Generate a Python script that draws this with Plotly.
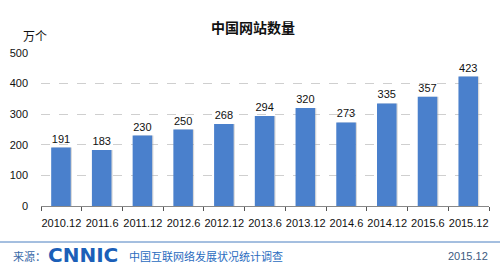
import plotly.graph_objects as go

categories = ["2010.12", "2011.6", "2011.12", "2012.6", "2012.12", "2013.6",
              "2013.12", "2014.6", "2014.12", "2015.6", "2015.12"]
values = [191, 183, 230, 250, 268, 294, 320, 273, 335, 357, 423]
y_ticks = [0, 100, 200, 300, 400, 500]

title_text = "中国网站数量"
unit_text = "万个"
source_label = "来源："
logo_text = "CNNIC"
survey_text = "中国互联网络发展状况统计调查"
date_text = "2015.12"

FONT = "Liberation Sans, Arial, Noto Sans CJK SC, sans-serif"
CJK = "Noto Sans CJK SC, sans-serif"

fig = go.Figure()
# soft shadow behind bars
fig.add_trace(go.Bar(
    x=categories, y=values, width=0.48, offset=-0.22,
    marker=dict(color="rgba(170,170,170,0.45)", line=dict(width=0)),
    hoverinfo="skip", showlegend=False,
))
fig.add_trace(go.Bar(
    x=categories, y=values, width=0.48, offset=-0.25,
    marker=dict(color="#4a80cc", line=dict(width=0)),
    text=[str(v) for v in values], textposition="outside",
    textfont=dict(family=FONT, size=11, color="#111111"),
    cliponaxis=False, showlegend=False,
))

fig.update_layout(
    width=500, height=267,
    margin=dict(l=41, r=11, t=53, b=61),
    paper_bgcolor="white", plot_bgcolor="white",
    barmode="overlay",
    showlegend=False,
    xaxis=dict(
        type="category", tickson="boundaries", ticks="outside", ticklen=4,
        tickcolor="#555555", showline=True, linecolor="#888888", linewidth=1,
        showgrid=False, tickfont=dict(family=FONT, size=11, color="#111111"),
        tickangle=0, ticklabelstandoff=7,
    ),
    yaxis=dict(
        range=[0, 500], tickvals=y_ticks, showline=False, ticks="",
        showgrid=True, gridcolor="#cfcfcf", griddash="dash", gridwidth=1,
        zeroline=False, ticklabelstandoff=12,
        tickfont=dict(family=FONT, size=11, color="#111111"),
    ),
    annotations=[
        dict(text="<b>" + title_text + "</b>", xref="paper", yref="paper",
             x=(253 - 41) / 448, y=1 + (53 - 27) / 153, xanchor="center",
             yanchor="middle", showarrow=False,
             font=dict(family=CJK, size=14, color="#111111")),
        dict(text=unit_text, xref="paper", yref="paper",
             x=(35 - 41) / 448, y=1 + (53 - 36) / 153, xanchor="center",
             yanchor="middle", showarrow=False,
             font=dict(family=CJK, size=12, color="#111111")),
        dict(text=source_label, xref="paper", yref="paper",
             x=(11 - 41) / 448, y=-(256 - 206) / 153, xanchor="left",
             yanchor="middle", showarrow=False,
             font=dict(family=CJK, size=11, color="#3a6aa8")),
        dict(text="<b>" + logo_text + "</b>", xref="paper", yref="paper",
             x=(46 - 41) / 448, y=-(255 - 206) / 153, xanchor="left",
             yanchor="middle", showarrow=False,
             font=dict(family="DejaVu Sans, sans-serif", size=20, color="#1b5fb8")),
        dict(text=survey_text, xref="paper", yref="paper",
             x=(127 - 41) / 448, y=-(256 - 206) / 153, xanchor="left",
             yanchor="middle", showarrow=False,
             font=dict(family=CJK, size=11, color="#2a6cc0")),
        dict(text=date_text, xref="paper", yref="paper",
             x=(490 - 41) / 448, y=-(256 - 206) / 153, xanchor="right",
             yanchor="middle", showarrow=False,
             font=dict(family=FONT, size=11, color="#3c5a80")),
    ],
    shapes=[
        dict(type="line", xref="paper", yref="paper",
             x0=-41 / 448, x1=459 / 448,
             y0=-(242 - 206) / 153, y1=-(242 - 206) / 153,
             line=dict(color="#4a7fc0", width=1)),
    ],
)

fig.write_html("out.html")
